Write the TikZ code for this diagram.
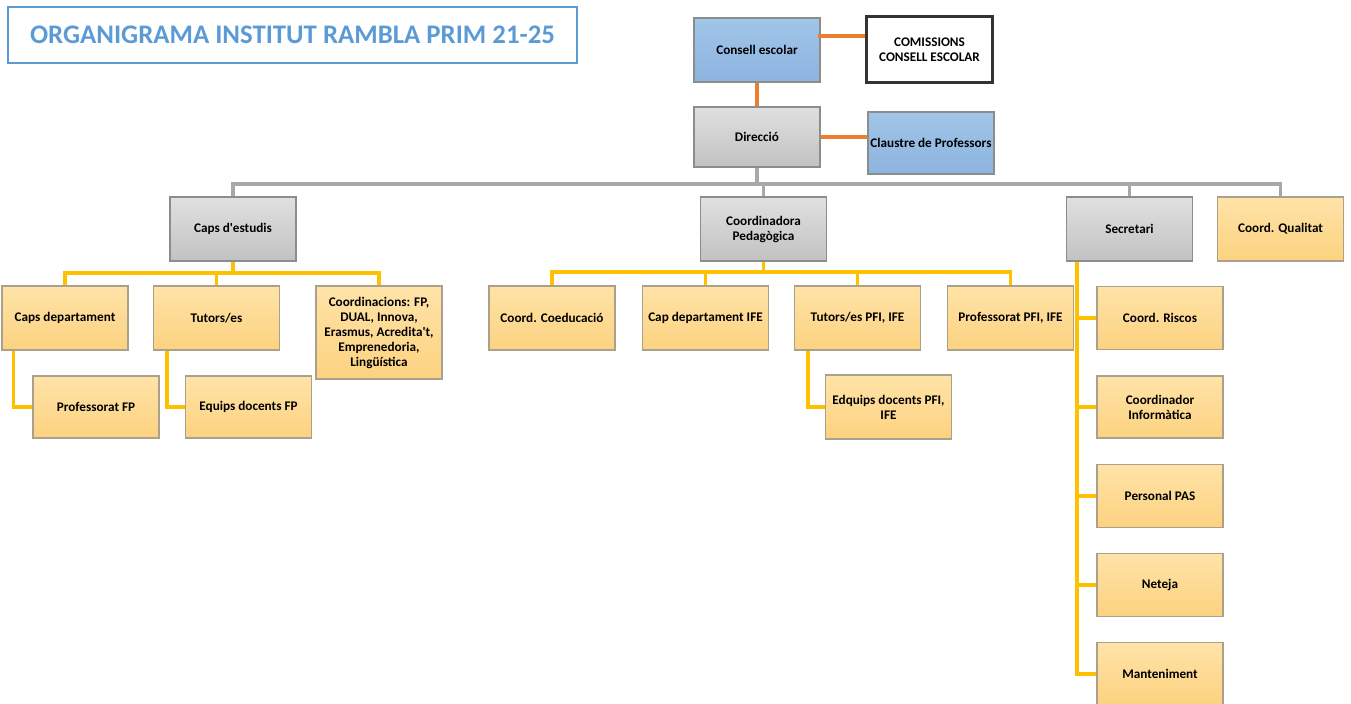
\documentclass[tikz,border=0pt]{standalone}
\usepackage{fontspec}
\setmainfont{Carlito}
\usepackage{tikz}
\usetikzlibrary{calc,positioning}
\definecolor{titolblau}{RGB}{91,155,213}
\definecolor{grisA}{RGB}{224,224,224}
\definecolor{grisB}{RGB}{194,194,194}
\definecolor{grocA}{RGB}{255,227,168}
\definecolor{grocB}{RGB}{252,210,128}
\definecolor{blauA}{RGB}{160,197,232}
\definecolor{blauB}{RGB}{141,180,224}
\definecolor{vora}{RGB}{140,140,140}
\definecolor{voragroc}{RGB}{170,160,140}
\definecolor{liniagris}{RGB}{168,168,168}
\definecolor{liniagroc}{RGB}{255,192,0}
\definecolor{liniataronja}{RGB}{237,125,49}

\begin{document}
\begin{tikzpicture}[x=0.5pt,y=-0.5pt,
	capsa/.style={draw=vora,line width=0.7pt,minimum width=63pt,minimum height=32pt,inner sep=1pt,align=center,font=\fontsize{6.6}{7.5}\selectfont\bfseries},
	capgris/.style={capsa,top color=grisA,bottom color=grisB},
	capgroc/.style={capsa,draw=voragroc,top color=grocA,bottom color=grocB},
	capblau/.style={capsa,top color=blauA,bottom color=blauB},
	lgris/.style={draw=liniagris,line width=1.7pt},
	lgroc/.style={draw=liniagroc,line width=1.7pt},
	ltaronja/.style={draw=liniataronja,line width=1.7pt}]
	\useasboundingbox (0,0) rectangle (1351,704);
	
	\node[draw=titolblau,line width=1.2pt,minimum width=284.5pt,minimum height=28pt,text=titolblau,font=\fontsize{13.4}{16}\selectfont\bfseries] (titol) at (292.5,35) {ORGANIGRAMA INSTITUT RAMBLA PRIM 21-25};
	
	\node[capblau] (cons) at (757,50) {Consell escolar};
	\node[capsa,draw=black!80,line width=1.5pt,fill=white,minimum height=33pt] (com) at (929.5,50) {COMISSIONS\\CONSELL ESCOLAR};
	\node[capgris,minimum height=30pt] (dir) at (757,137) {Direcció};
	\node[capblau,minimum height=31pt] (claus) at (931,143) {Claustre de Professors};
	
	\node[capgris] (caps) at (233,229) {Caps d\textquotesingle estudis};
	\node[capgris] (coord) at (763.5,229) {Coordinadora\\Pedagògica};
	\node[capgris] (secr) at (1129.5,229) {Secretari};
	\node[capgroc] (qual) at (1280.5,229) {Coord. Qualitat};
	
	\node[capgroc] (cdep) at (65,318) {Caps departament};
	\node[capgroc] (tut) at (216.5,318) {Tutors/es};
	\node[capgroc,minimum height=46.5pt] (coordi) at (379,332.5) {Coordinacions: FP,\\DUAL, Innova,\\Erasmus, Acredita\textquotesingle t,\\Emprenedoria,\\Lingüística};
	\node[capgroc,minimum height=31pt] (proffp) at (96,407) {Professorat FP};
	\node[capgroc,minimum height=31pt] (eqfp) at (248.5,407) {Equips docents FP};
	
	\node[capgroc] (coe) at (552,318) {Coord. Coeducació};
	\node[capgroc] (capife) at (705.5,318) {Cap departament IFE};
	\node[capgroc] (tutpfi) at (857.5,318) {Tutors/es PFI, IFE};
	\node[capgroc] (profpfi) at (1010.5,318) {Professorat PFI, IFE};
	\node[capgroc] (edq) at (888.5,407) {Edquips docents PFI,\\IFE};
	
	\node[capgroc,minimum height=31.5pt] (risc) at (1160,318) {Coord. Riscos};
	\node[capgroc,minimum height=31pt] (info) at (1160,407) {Coordinador\\Informàtica};
	\node[capgroc,minimum height=31.5pt] (pas) at (1160,496) {Personal PAS};
	\node[capgroc,minimum height=31.5pt] (net) at (1160,585) {Neteja};
	\node[capgroc,minimum height=31.5pt] (mant) at (1160,674) {Manteniment};
	
	% direccio
	\draw[ltaronja] ($(cons.east)+(-3,-14)$) -- ($(com.west)+(0,-14)$);
	\draw[ltaronja] (cons.south) -- (dir.north);
	\draw[ltaronja] (dir.east) -- (claus.west |- dir.east);
	
	\coordinate (bus) at (757,184);
	\draw[lgris] (dir.south) -- (dir.south |- bus);
	\draw[lgris] (caps.north) |- (qual.north |- bus) -- (qual.north);
	\draw[lgris] (coord.north) -- (coord.north |- bus);
	\draw[lgris] (secr.north) -- (secr.north |- bus);
	
	% caps d'estudis
	\coordinate (bcaps) at (233,273);
	\draw[lgroc] (caps.south) -- (caps.south |- bcaps);
	\draw[lgroc] (cdep.north) |- (coordi.north |- bcaps) -- (coordi.north);
	\draw[lgroc] (tut.north) -- (tut.north |- bcaps);
	\draw[lgroc] ($(cdep.south west)+(12,0)$) |- (proffp.west);
	\draw[lgroc] ($(tut.south west)+(14,0)$) |- (eqfp.west);
	
	% coordinadora
	\coordinate (bcoord) at (763.5,272);
	\draw[lgroc] (coord.south) -- (coord.south |- bcoord);
	\draw[lgroc] (coe.north) |- (profpfi.north |- bcoord) -- (profpfi.north);
	\draw[lgroc] (capife.north) -- (capife.north |- bcoord);
	\draw[lgroc] (tutpfi.north) -- (tutpfi.north |- bcoord);
	\draw[lgroc] ($(tutpfi.south west)+(14,0)$) |- (edq.west);
	
	% secretari
	\coordinate (bsec) at ($(secr.south west)+(11,0)$);
	\draw[lgroc] (bsec) |- (mant.west);
	\foreach \n in {risc,info,pas,net} \draw[lgroc] (bsec |- \n.west) -- (\n.west);
\end{tikzpicture}
\end{document}
